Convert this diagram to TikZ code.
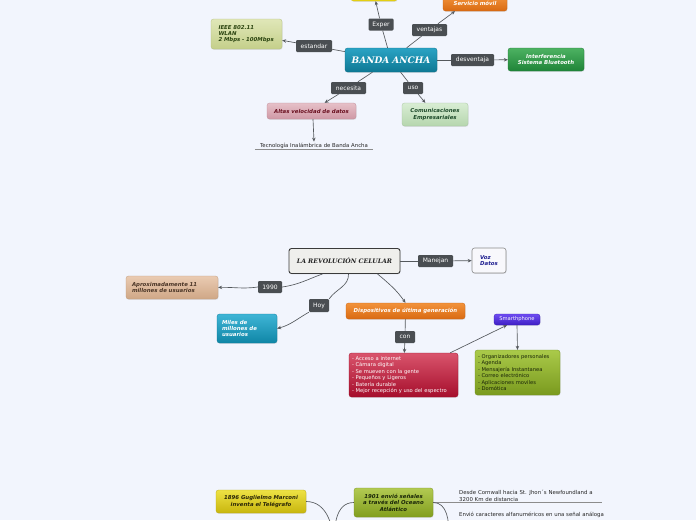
\documentclass[tikz,border=0pt]{standalone}
\usepackage{fontspec}
\setmainfont{DejaVu Sans}
\newfontfamily\titlefont{DejaVu Serif}
\usetikzlibrary{shadows,arrows.meta}
\definecolor{bg}{HTML}{F2F5FD}
\definecolor{lblc}{HTML}{4A4E52}
\definecolor{linec}{HTML}{55595D}
\definecolor{yA}{HTML}{F4E63A}\definecolor{yB}{HTML}{E6D010}
\definecolor{oA}{HTML}{F2923A}\definecolor{oB}{HTML}{D96A12}
\definecolor{tA}{HTML}{2AA3C4}\definecolor{tB}{HTML}{0E7894}
\definecolor{iA}{HTML}{E0E7B8}\definecolor{iB}{HTML}{C4CF8A}\definecolor{iT}{HTML}{2B4410}
\definecolor{gA}{HTML}{4DB262}\definecolor{gB}{HTML}{1F8438}
\definecolor{pA}{HTML}{E6C0C8}\definecolor{pB}{HTML}{CF98A5}\definecolor{pT}{HTML}{6A1020}
\definecolor{cA}{HTML}{D8EDD3}\definecolor{cB}{HTML}{B6D6AE}\definecolor{cT}{HTML}{1D4A2A}
\definecolor{revF}{HTML}{EFEFEC}\definecolor{revD}{HTML}{3A3A3A}\definecolor{revT}{HTML}{222222}
\definecolor{vozF}{HTML}{F8F8FC}\definecolor{vozD}{HTML}{8A8A8A}\definecolor{vozT}{HTML}{1E1E90}
\definecolor{aA}{HTML}{EACBB2}\definecolor{aB}{HTML}{CFA786}\definecolor{aT}{HTML}{4A3526}
\definecolor{mA}{HTML}{3FB5D6}\definecolor{mB}{HTML}{0F86A6}
\definecolor{rA}{HTML}{D9546C}\definecolor{rB}{HTML}{A60E2C}
\definecolor{sA}{HTML}{6E4CF2}\definecolor{sB}{HTML}{3E1EC4}
\definecolor{lA}{HTML}{AACA4A}\definecolor{lB}{HTML}{7A9A1E}\definecolor{lT}{HTML}{1A2608}
\definecolor{kA}{HTML}{EEE244}\definecolor{kB}{HTML}{C8B60E}\definecolor{kT}{HTML}{2A2608}
\definecolor{nA}{HTML}{B2CA52}\definecolor{nB}{HTML}{829E1E}
\begin{document}
\begin{tikzpicture}[x=1pt,y=1pt]
\tikzset{
 shadowed/.style={drop shadow={opacity=0.18, shadow xshift=0.5pt, shadow yshift=-0.8pt}},
 mbox/.style={rounded corners=2.5pt, inner sep=1pt, align=center, shadowed,
   font=\fontsize{5.4}{6.4}\selectfont\bfseries\itshape},
 grad/.style 2 args={top color=#1, bottom color=#2, draw=#2!92!black, line width=0.3pt},
 lbl/.style={fill=lblc, rounded corners=1.2pt, text=white, font=\fontsize{6}{7}\selectfont,
   inner sep=0pt, minimum height=12pt},
 link/.style={draw=linec, line width=0.65pt},
 linkarr/.style={link, -{Stealth[length=4pt,width=3.5pt]}},
 plain/.style={font=\fontsize{5.4}{6.5}\selectfont, text=black!85, inner sep=1pt, align=left},
}
\fill[bg] (0,0) rectangle (696,-520);
\useasboundingbox (0,0) rectangle (696,-520);
\clip (0,0) rectangle (696,-520);

% ---------------- BANDA ANCHA ----------------
\node[rounded corners=2.5pt, inner sep=0pt, shadowed, grad={yA}{yB}, minimum width=46pt, minimum height=14pt] (yellowtop) at (374,6) {};
\node[mbox, grad={oA}{oB}, text=white, minimum width=64pt, minimum height=15pt] (servicio) at (475,-3.5) {Servicio móvil};
\node[mbox, grad={tA}{tB}, text=white, minimum width=92pt, minimum height=24pt,
  font=\titlefont\fontsize{9}{10}\selectfont\bfseries\itshape] (banda) at (391,-60) {BANDA ANCHA};
\node[mbox, grad={iA}{iB}, text=iT, minimum width=71pt, minimum height=30pt, align=left, text width=56pt] (ieee) at (246.5,-34) {IEEE 802.11\\WLAN\\2 Mbps - 100Mbps};
\node[mbox, grad={gA}{gB}, text=white, minimum width=76pt, minimum height=23pt] (interf) at (546,-59.5) {Interferencia\\Sistema Bluetooth};
\node[mbox, grad={pA}{pB}, text=pT, minimum width=89pt, minimum height=16pt] (altas) at (311.5,-111) {Altas velocidad de datos};
\node[mbox, grad={cA}{cB}, text=cT, minimum width=66pt, minimum height=23pt] (comun) at (435,-114.5) {Comunicaciones\\Empresariales};
\node[plain, align=center, minimum width=118pt] (tecno) at (314,-145.5) {Tecnología Inalámbrica de Banda Ancha};
\draw[draw=black!45, line width=0.5pt] (tecno.south west) -- (tecno.south east);

\node[lbl, minimum width=25pt] (lexper) at (381,-24.5) {Exper};
\node[lbl, minimum width=35pt] (lventajas) at (429.5,-30) {ventajas};
\node[lbl, minimum width=36pt] (lestandar) at (314,-46) {estandar};
\node[lbl, minimum width=43pt] (ldesv) at (472.5,-60) {desventaja};
\node[lbl, minimum width=35pt] (lnecesita) at (348.5,-88) {necesita};
\node[lbl, minimum width=20pt] (luso) at (413,-88) {uso};

\draw[link] (banda) -- (lexper); \draw[linkarr] (lexper) -- (yellowtop);
\draw[link] (banda) -- (lventajas); \draw[linkarr] (lventajas) -- ([xshift=-20pt]servicio.south);
\draw[link] (banda) -- (lestandar); \draw[linkarr] (lestandar) -- (ieee);
\draw[link] (banda) -- (ldesv); \draw[linkarr] (ldesv) -- (interf);
\draw[link] (banda) -- (lnecesita); \draw[linkarr] (lnecesita) -- (altas);
\draw[link] (banda) -- (luso); \draw[linkarr] (luso) -- (comun);
\draw[linkarr] ([xshift=1.5pt]altas.south) -- (tecno.north);

% ---------------- LA REVOLUCION CELULAR ----------------
\node[mbox, fill=revF, draw=revD, line width=0.9pt, text=revT, minimum width=111pt, minimum height=25pt,
  font=\titlefont\fontsize{6.2}{7}\selectfont\bfseries\itshape] (rev) at (344.5,-261) {LA REVOLUCIÓN CELULAR};
\node[mbox, fill=vozF, draw=vozD, line width=0.6pt, text=vozT, minimum width=34pt, minimum height=25pt, align=left] (voz) at (489,-260.5) {Voz\\Datos};
\node[mbox, grad={aA}{aB}, text=aT, minimum width=92pt, minimum height=23pt, align=left, text width=80pt] (aprox) at (172,-287.5) {Aproximadamente 11\\millones de usuarios};
\node[mbox, grad={mA}{mB}, text=white, minimum width=60pt, minimum height=29pt, align=left, text width=50pt] (miles) at (247,-328.5) {Miles de\\millones de\\usuarios};
\node[mbox, grad={oA}{oB}, text=white, minimum width=119pt, minimum height=16pt] (dispo) at (405.5,-311) {Dispositivos de última generación};
\node[mbox, grad={rA}{rB}, text=white, minimum width=109pt, minimum height=44pt, align=left, text width=103pt,
  font=\fontsize{5.2}{6.5}\selectfont] (acceso) at (403.5,-375) {- Acceso a internet\\- Cámara digital\\- Se mueven con la gente\\- Pequeños y Ligeros\\- Batería durable\\- Mejor recepción y uso del espectro};
\node[mbox, grad={sA}{sB}, text=white, minimum width=46pt, minimum height=11pt, inner sep=0pt,
  font=\fontsize{5.2}{6}\selectfont] (smart) at (517,-319.5) {Smarthphone};
\node[mbox, grad={lA}{lB}, text=lT, minimum width=85pt, minimum height=45pt, align=left, text width=79pt,
  font=\fontsize{5.2}{6.5}\selectfont] (organ) at (517.5,-372.5) {- Organizadores personales\\- Agenda\\- Mensajería Instantanea\\- Correo electrónico\\- Aplicaciones moviles\\- Domótica};

\node[lbl, minimum width=35pt] (lmanejan) at (435.5,-261) {Manejan};
\node[lbl, minimum width=24pt] (l1990) at (270,-287) {1990};
\node[lbl, minimum width=20pt, minimum height=13pt] (lhoy) at (319,-305.5) {Hoy};
\node[lbl, minimum width=20pt] (lcon) at (405,-337) {con};

\draw[link] (rev) -- (lmanejan); \draw[linkarr] (lmanejan) -- (voz);
\draw[link] ([xshift=-22pt]rev.south) to[out=200,in=8] (l1990.east);
\draw[linkarr] (l1990.west) to[out=188,in=2] (aprox.east);
\draw[link] ([xshift=4pt]rev.south) to[out=-88,in=55] (lhoy.north east);
\draw[linkarr] (lhoy.south west) to[out=210,in=15] (miles.east);
\draw[linkarr] ([xshift=33pt]rev.south) to[out=-40,in=125] (dispo.north);
\draw[link] (dispo) -- (lcon); \draw[linkarr] (lcon) -- (acceso);
\draw[linkarr] ([xshift=-8pt]acceso.north east) -- ([xshift=-10pt]smart.south);
\draw[linkarr] (smart.south) -- (organ.north);

% ---------------- HISTORIA ----------------
\node[mbox, grad={kA}{kB}, text=kT, minimum width=90pt, minimum height=23pt] (marconi) at (261,-501.5) {1896 Guglielmo Marconi\\inventa el Telégrafo};
\node[mbox, grad={nA}{nB}, text=lT, minimum width=79pt, minimum height=29pt] (b1901) at (393.5,-502.5) {1901 envió señales\\a través del Oceano\\Atlántico};
\coordinate (hub) at (334,-548);
\coordinate (envioline) at (449,-535);
\draw[link] (marconi.east) to[out=0,in=90] (hub);
\draw[link] (b1901.west) to[out=180,in=90] (hub);
\node[plain, anchor=south west, minimum width=144pt, text width=142pt] (desde) at (458,-502.5) {Desde Cornwall hacia St. Jhon´s Newfoundland a\\3200 Km de distancia};
\draw[draw=black!45, line width=0.5pt] (b1901.east) -- (desde.south east);
\draw[link] (b1901.east) to[out=0,in=90] (envioline);
\node[plain, anchor=west] (envio) at (458,-515) {Envió caracteres alfanuméricos en una señal análoga};
\end{tikzpicture}
\end{document}
